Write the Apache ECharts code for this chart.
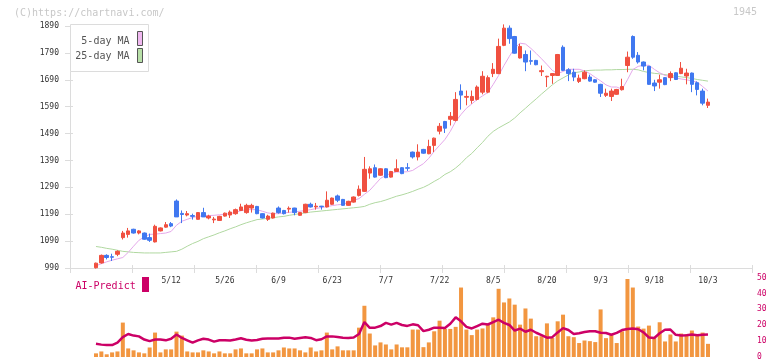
<!DOCTYPE html>
<html><head><meta charset="utf-8">
<script src="https://cdn.jsdelivr.net/npm/echarts@6/dist/echarts.min.js"></script>
<style>html,body{margin:0;padding:0;background:#fff}#c{width:772px;height:361px}</style>
</head><body><div id="c"></div>
<script>
const dates = ['4/17','4/18','4/21','4/22','4/23','4/24','4/25','4/28','4/30',
'5/1','5/2','5/7','5/8','5/9','5/12','5/13','5/14','5/15','5/16','5/19','5/20','5/21','5/22','5/23','5/26','5/27','5/28','5/29','5/30',
'6/2','6/3','6/4','6/5','6/6','6/9','6/10','6/11','6/12','6/13','6/16','6/17','6/18','6/19','6/20','6/23','6/24','6/25','6/26','6/27','6/30',
'7/1','7/2','7/3','7/4','7/7','7/8','7/9','7/10','7/11','7/14','7/15','7/16','7/17','7/18','7/22','7/23','7/24','7/25','7/28','7/29','7/30','7/31',
'8/1','8/4','8/5','8/6','8/7','8/8','8/12','8/13','8/14','8/15','8/18','8/19','8/20','8/21','8/22','8/25','8/26','8/27','8/28','8/29',
'9/1','9/2','9/3','9/4','9/5','9/8','9/9','9/10','9/11','9/12','9/16','9/17','9/18','9/19','9/22','9/24','9/25','9/26','9/29','9/30',
'10/1','10/2','10/3'];

const openP = [991,1009,1037,1032,1041,1103,1115,1134,1120,1120,
1103,1087,1128,1142,1155,1239,1193,1187,1185,1171,
1196,1176,1169,1167,1183,1187,1192,1204,1196,1213,
1219,1192,1171,1176,1213,1204,1209,1213,1186,1196,
1227,1217,1220,1217,1227,1258,1245,1223,1235,1260,
1275,1343,1363,1335,1359,1328,1349,1363,1363,1421,
1403,1431,1415,1446,1499,1535,1543,1539,1648,1625,
1613,1617,1644,1644,1713,1713,1818,1882,1851,1771,
1784,1761,1762,1720,1701,1706,1706,1811,1727,1718,
1684,1694,1700,1690,1673,1632,1628,1636,1653,1743,
1851,1781,1756,1740,1678,1681,1698,1698,1716,1713,
1704,1715,1679,1648,1595];
const closeP = [1008,1037,1029,1030,1052,1120,1128,1120,1128,1097,
1093,1145,1139,1151,1146,1180,1189,1192,1182,1196,
1180,1183,1172,1182,1194,1198,1207,1217,1223,1223,
1192,1176,1183,1194,1196,1192,1212,1196,1196,1227,
1217,1220,1218,1242,1250,1242,1223,1238,1254,1283,
1357,1359,1328,1359,1326,1349,1359,1341,1361,1403,
1421,1417,1442,1473,1517,1510,1554,1617,1633,1628,
1628,1663,1703,1698,1729,1814,1882,1843,1789,1814,
1756,1759,1746,1724,1703,1713,1784,1725,1713,1700,
1696,1718,1685,1681,1640,1640,1648,1654,1665,1774,
1774,1756,1741,1673,1667,1690,1672,1713,1691,1733,
1715,1673,1654,1603,1607];
const lowP = [988,1006,1022,1016,1034,1096,1103,1118,1115,1095,
1087,1085,1126,1140,1142,1180,1157,1182,1170,1170,
1180,1171,1157,1165,1181,1176,1188,1202,1192,1196,
1190,1174,1165,1174,1192,1189,1196,1186,1184,1194,
1215,1207,1207,1215,1225,1235,1221,1221,1233,1256,
1273,1322,1326,1333,1324,1326,1347,1339,1351,1397,
1390,1415,1413,1421,1487,1492,1520,1535,1579,1595,
1601,1613,1636,1640,1700,1711,1815,1824,1787,1769,
1722,1746,1744,1704,1663,1675,1704,1723,1685,1685,
1678,1692,1683,1679,1626,1626,1611,1634,1650,1718,
1768,1750,1725,1671,1648,1657,1670,1685,1689,1711,
1673,1644,1632,1595,1585];
const highP = [1010,1040,1041,1043,1056,1128,1139,1136,1131,1122,
1118,1151,1141,1161,1161,1245,1204,1202,1192,1198,
1214,1188,1180,1184,1196,1204,1211,1229,1229,1229,
1221,1194,1188,1196,1219,1206,1219,1214,1198,1229,
1233,1232,1221,1275,1252,1263,1247,1240,1256,1297,
1403,1368,1375,1361,1361,1351,1394,1365,1380,1423,
1450,1433,1467,1475,1529,1537,1570,1644,1673,1650,
1650,1669,1722,1706,1752,1843,1896,1892,1853,1824,
1799,1799,1764,1743,1705,1715,1786,1818,1733,1731,
1709,1725,1709,1692,1675,1657,1657,1656,1694,1795,
1855,1793,1758,1742,1690,1709,1700,1721,1718,1756,
1731,1717,1684,1657,1620];

const ma5 = [998,1006,1013,1019,1024,1029,1048,1071,1093,1106,
1115,1116,1118,1120,1126,1149,1164,1171,1178,1182,
1184,1185,1186,1188,1190,1192,1197,1203,1207,1207,
1207,1201,1195,1192,1192,1195,1197,1199,1201,1204,
1207,1211,1215,1218,1222,1225,1227,1234,1242,1248,
1264,1279,1301,1323,1335,1342,1347,1347,1348,1353,
1366,1378,1398,1424,1446,1468,1498,1535,1561,1584,
1600,1617,1630,1643,1673,1706,1743,1777,1808,1826,
1823,1807,1788,1768,1747,1725,1713,1721,1729,1729,
1729,1723,1713,1699,1686,1671,1663,1663,1655,1690,
1728,1740,1744,1744,1729,1716,1706,1701,1697,1693,
1690,1686,1681,1665,1648];
const ma25 = [1070,1067,1063,1060,1056,1052,1050,1048,1047,1046,
1046,1046,1046,1048,1050,1052,1060,1071,1081,1089,
1099,1106,1113,1121,1128,1136,1143,1151,1158,1164,
1170,1172,1175,1177,1180,1182,1186,1189,1192,1195,
1198,1200,1202,1204,1206,1208,1210,1212,1214,1216,
1219,1227,1233,1237,1243,1250,1257,1262,1268,1275,
1283,1290,1300,1312,1323,1338,1348,1362,1379,1400,
1416,1437,1457,1480,1498,1511,1522,1533,1548,1567,
1584,1602,1619,1637,1654,1671,1686,1697,1708,1716,
1719,1723,1725,1726,1726,1727,1727,1728,1728,1729,
1729,1727,1721,1717,1714,1712,1709,1706,1703,1701,
1698,1695,1691,1688,1685];

const volume = [2.3,3.5,1.7,2.9,3.5,21.7,5.4,4.2,2.9,2.3,
6.0,15.4,2.9,4.8,4.8,16,13.5,3.5,2.9,2.9,
4.2,3.5,2.3,3.5,2.3,2.3,4.8,5.4,2.3,2.3,
4.8,5.4,2.9,2.9,4.2,6.0,5.4,5.4,4.2,2.9,
6.0,3.5,4.2,15.4,4.8,6.7,4.2,4.2,4.2,18.5,
32.3,14.8,7.3,9.2,7.9,4.8,7.9,6.1,6.1,17.3,
17.3,6.2,9.2,16.2,22.9,17.7,17.7,19,43.8,17.3,
13.8,17.3,18,21,25,43,34.4,36.9,33,20.4,
30.6,24.2,13.1,13.1,21.2,12,22.5,26.7,13.1,12.5,
8.8,10.4,10,9.4,30,11.9,13.8,8.8,16.2,49.2,
43.8,19.2,17.9,19.8,11.9,21.9,9.8,14.2,9.8,14.8,
14.4,16.7,14.4,15.4,8.3];
const aiPredict = [8.3,7.8,7.5,7.5,9,12.5,14.5,13.5,13,11,
10,11,11,10.5,11.5,14.2,12,10.5,9,10.5,
11.5,11,9.7,10.6,10.6,10.4,11,11.8,10.9,10.4,
10.7,11.5,11.7,11.7,11.7,12.2,12.2,11.5,12,12.4,
12,10.6,11.2,13,13,12.6,12.2,12,12.3,14.5,
22,18.4,18.5,19.5,21.5,20.4,21.5,20.2,19.6,20.6,
20,16.3,17.2,18.5,18.5,18.3,21,25,22.5,19,
18,19.5,21,20.5,22,23.5,21.5,20.2,16.7,17.9,
15.9,17.2,15.3,13.8,12.2,12.5,15.5,18.2,17,14.5,
15,15.8,16.25,16.25,15.3,15.1,14,15.2,17,17.7,
17.9,17.5,15.5,12.3,12,15,17.2,17.3,14,13.6,
13.75,14.2,13.7,14,14.2];

const dateTicks = ['5/12','5/26','6/9','6/23','7/7','7/22','8/5','8/20','9/3','9/18','10/3'];
const priceTicks = [990,1090,1190,1290,1390,1490,1590,1690,1790,1890];
const volTicks = [0,10,20,30,40,50];

const FONT = '"DejaVu Sans Mono", monospace';
const UP = '#f05040', DOWN = '#4078f0';
const X_MIN = -4.84, X_MAX = 122.2;

const candles = dates.map((d, i) => [i, openP[i], closeP[i], lowP[i], highP[i]]);
const pair = arr => arr.map((v, i) => [i, v]);
const labelIdx = dateTicks.map(t => dates.indexOf(t));
const plain = v => String(Math.round(v));

const chart = echarts.init(document.getElementById('c'), null, {renderer: 'canvas'});
chart.setOption({
  animation: false,
  grid: [
    {left: 70, right: 20, top: 26, height: 242},
    {left: 70, right: 20, top: 277.7, height: 80}
  ],
  xAxis: [
    {type: 'value', gridIndex: 0, position: 'bottom', min: X_MIN, max: X_MAX,
     splitLine: {show: false}, axisLine: {show: true, onZero: false, lineStyle: {color: '#dcdcdc', width: 1}},
     axisTick: {show: false},
     axisLabel: {customValues: labelIdx, formatter: v => dates[Math.round(v)],
       fontFamily: FONT, fontSize: 8, color: '#333', margin: 9}},
    {type: 'value', gridIndex: 0, position: 'bottom', min: 0, max: 11, interval: 1, offset: -3,
     splitLine: {show: false}, axisLine: {show: false, onZero: false},
     axisTick: {show: true, length: 8, lineStyle: {color: '#dcdcdc'}}, axisLabel: {show: false}},
    {type: 'value', gridIndex: 1, position: 'bottom', min: X_MIN, max: X_MAX, show: false,
     axisLine: {onZero: false}, splitLine: {show: false}}
  ],
  yAxis: [
    {type: 'value', gridIndex: 0, position: 'left', min: 990, max: 1890,
     splitLine: {show: false}, axisLine: {show: true, onZero: false, lineStyle: {color: '#dcdcdc'}},
     axisTick: {show: false},
     axisLabel: {customValues: priceTicks, formatter: plain, fontFamily: FONT, fontSize: 8, color: '#333', margin: 11}},
    {type: 'value', gridIndex: 0, position: 'left', min: 990, max: 1890, offset: -3,
     splitLine: {show: false}, axisLine: {show: false, onZero: false},
     axisTick: {show: true, length: 8, customValues: priceTicks, lineStyle: {color: '#dcdcdc'}},
     axisLabel: {show: false}},
    {type: 'value', gridIndex: 1, position: 'right', min: 0, max: 50, interval: 10,
     splitLine: {show: false}, axisLine: {show: false, onZero: false}, axisTick: {show: false},
     axisLabel: {customValues: volTicks, formatter: plain, fontFamily: FONT, fontSize: 8, color: '#cc0066', margin: 5}}
  ],
  series: [
    {type: 'line', xAxisIndex: 0, yAxisIndex: 0, data: pair(ma25), showSymbol: false, symbol: 'none',
     lineStyle: {color: '#b0d8a0', width: 1}, z: 1},
    {type: 'line', xAxisIndex: 0, yAxisIndex: 0, data: pair(ma5), showSymbol: false, symbol: 'none',
     lineStyle: {color: '#e4a8ea', width: 1}, z: 1},
    {type: 'candlestick', xAxisIndex: 0, yAxisIndex: 0, data: candles, barWidth: 4, clip: false,
     itemStyle: {color: UP, color0: DOWN, borderColor: UP, borderColor0: DOWN, borderWidth: 1}, z: 2},
    {type: 'bar', xAxisIndex: 2, yAxisIndex: 2, data: pair(volume), barWidth: 4,
     itemStyle: {color: '#f29640'}, z: 1},
    {type: 'line', xAxisIndex: 2, yAxisIndex: 2, data: pair(aiPredict), showSymbol: false, symbol: 'none',
     lineStyle: {color: '#cc0066', width: 2.5}, z: 2}
  ],
  graphic: [
    {type: 'text', x: 14, y: 13, z: 10, style: {text: '(C)https://chartnavi.com/', font: '10px ' + FONT, fill: '#c8c8c8', verticalAlign: 'middle', textVerticalAlign: 'middle'}},
    {type: 'text', x: 733, y: 12, z: 10, style: {text: '1945', font: '10px ' + FONT, fill: '#c8c8c8', verticalAlign: 'middle', textVerticalAlign: 'middle'}},
    {type: 'rect', z: 10, shape: {x: 70.5, y: 24.5, width: 78, height: 47}, style: {fill: '#fff', stroke: '#dcdcdc', lineWidth: 1}},
    {type: 'text', x: 129.5, y: 41, z: 11, style: {text: '5-day MA', font: '10px ' + FONT, fill: '#555', align: 'right', textAlign: 'right', verticalAlign: 'middle', textVerticalAlign: 'middle'}},
    {type: 'rect', z: 11, shape: {x: 137.5, y: 31.5, width: 5, height: 14}, style: {fill: '#f0b8f0', stroke: '#555', lineWidth: 1}},
    {type: 'text', x: 129.5, y: 56.5, z: 11, style: {text: '25-day MA', font: '10px ' + FONT, fill: '#555', align: 'right', textAlign: 'right', verticalAlign: 'middle', textVerticalAlign: 'middle'}},
    {type: 'rect', z: 11, shape: {x: 137.5, y: 48.5, width: 5, height: 14}, style: {fill: '#b8e0a8', stroke: '#555', lineWidth: 1}},
    {type: 'text', x: 75.5, y: 286, z: 10, style: {text: 'AI-Predict', font: '10px ' + FONT, fill: '#cc0066', verticalAlign: 'middle', textVerticalAlign: 'middle'}},
    {type: 'rect', z: 10, shape: {x: 142, y: 277, width: 7, height: 15}, style: {fill: '#cc0066'}}
  ]
});
</script>
</body></html>
